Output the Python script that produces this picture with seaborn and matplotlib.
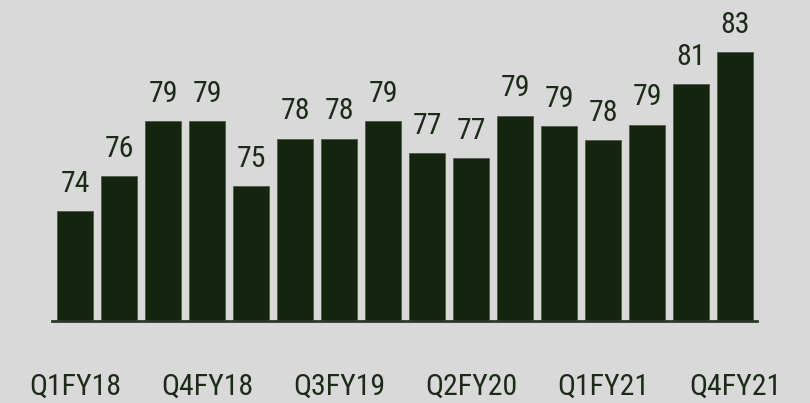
import matplotlib
matplotlib.use("Agg")
import matplotlib.pyplot as plt
from matplotlib import font_manager
import seaborn as sns
import pandas as pd

# Quarterly scores, Q1FY18 through Q4FY21
quarters = ["Q1FY18", "Q2FY18", "Q3FY18", "Q4FY18",
            "Q1FY19", "Q2FY19", "Q3FY19", "Q4FY19",
            "Q1FY20", "Q2FY20", "Q3FY20", "Q4FY20",
            "Q1FY21", "Q2FY21", "Q3FY21", "Q4FY21"]
scores = [74.0, 76.0, 79.1, 79.1, 75.4, 78.1, 78.1, 79.1,
          77.3, 77.0, 79.4, 78.8, 78.0, 78.9, 81.2, 83.0]
shown_ticks = ["Q1FY18", "Q4FY18", "Q3FY19", "Q2FY20", "Q1FY21", "Q4FY21"]

BG = "#d9d9d9"
BAR = "#15240f"
INK = "#1b2b17"

sns.set_theme(style="white")

# Prefer a narrow sans face when one is available
installed = {f.name for f in font_manager.fontManager.ttflist}
families = [f for f in ["Liberation Sans Narrow", "Arial Narrow", "Roboto Condensed"]
            if f in installed] + ["Liberation Sans", "DejaVu Sans"]
plt.rcParams["font.family"] = families
narrow = families[0] not in ("Liberation Sans", "DejaVu Sans")
fs = 21.5 if narrow else 21

df = pd.DataFrame({"quarter": quarters, "score": scores})

fig = plt.figure(figsize=(8.10, 4.03), dpi=100, facecolor=BG)
ax = fig.add_axes([52 / 810, 82 / 403, (757 - 52) / 810, 321 / 403])
ax.set_facecolor(BG)

sns.barplot(data=df, x="quarter", y="score", color=BAR, saturation=1,
            width=0.82, edgecolor="#4d5c48", linewidth=0.6, ax=ax)

ax.set_ylim(67.8, 67.8 + 321 / 17.7)
ax.set_xlim(-0.53, 15.5)

for container in ax.containers:
    ax.bar_label(container, labels=[f"{v:.0f}" for v in scores],
                 padding=9.5, fontsize=fs, color=INK)

ax.set_xticks([quarters.index(q) for q in shown_ticks])
ax.set_xticklabels(shown_ticks, fontsize=fs, color=INK)
ax.tick_params(axis="x", length=0, pad=37.5)
ax.set_yticks([])
ax.set_xlabel("")
ax.set_ylabel("")

for side in ["top", "right", "left"]:
    ax.spines[side].set_visible(False)
ax.spines["bottom"].set_color("#2b3a27")
ax.spines["bottom"].set_linewidth(2)

fig.savefig("out.png", dpi=100, facecolor=BG)
